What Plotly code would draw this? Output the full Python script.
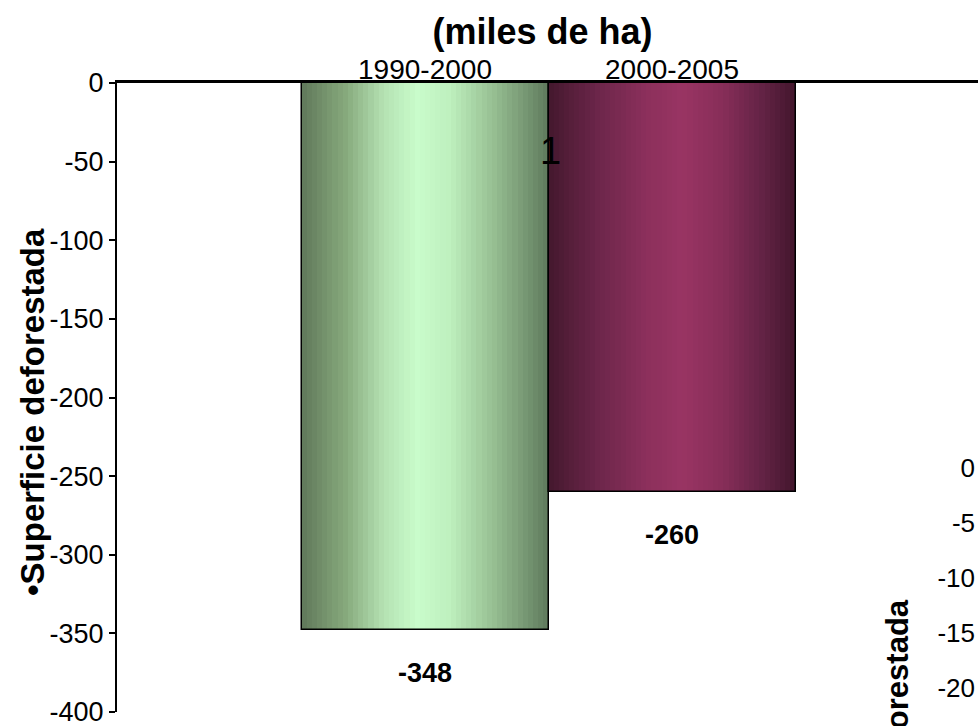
import plotly.graph_objects as go

# ---------------- data ----------------
categories = ["1990-2000", "2000-2005"]
values = [-348, -260]
value_labels = ["-348", "-260"]
y_ticks = [0, -50, -100, -150, -200, -250, -300, -350, -400]
title_text = "(miles de ha)"
y_title = "•Superficie deforestada"
stray_label = "1"
right_ticks = [0, -5, -10, -15, -20, -25]
right_title = "•Superficie deforestada"

# ---------------- style ----------------
W, H = 978, 726
NARROW = "Liberation Sans Narrow, Arial Narrow, Liberation Sans, Arial, sans-serif"
SANS = "Liberation Sans, Arial, sans-serif"

green_stops = [(0.0, (96, 120, 90)), (0.18, (135, 170, 125)), (0.33, (180, 225, 178)),
               (0.47, (201, 252, 203)), (0.6, (190, 240, 190)), (0.78, (150, 190, 145)),
               (1.0, (95, 122, 92))]
purple_stops = [(0.0, (68, 24, 46)), (0.2, (108, 38, 74)), (0.4, (140, 48, 92)),
                (0.54, (153, 52, 99)), (0.7, (136, 46, 89)), (0.86, (100, 35, 70)),
                (1.0, (66, 22, 44))]
bar_stops = [green_stops, purple_stops]


def px_x(p):
    return p / W


def px_y(p):
    return 1 - p / H


def interp(stops, t):
    for (t0, c0), (t1, c1) in zip(stops[:-1], stops[1:]):
        if t0 <= t <= t1:
            f = (t - t0) / (t1 - t0) if t1 > t0 else 0
            c = [round(a + (b - a) * f) for a, b in zip(c0, c1)]
            return f"rgb({c[0]},{c[1]},{c[2]})"
    c = stops[-1][1]
    return f"rgb({c[0]},{c[1]},{c[2]})"


fig = go.Figure()

N = 48
for i, (v, stops) in enumerate(zip(values, bar_stops)):
    xs = [i - 0.5 + (k + 0.5) / N for k in range(N)]
    cols = [interp(stops, (k + 0.5) / N) for k in range(N)]
    fig.add_trace(go.Bar(
        x=xs, y=[v] * N, width=1.0 / N,
        marker=dict(color=cols, line=dict(width=0)),
        hoverinfo="skip", showlegend=False,
    ))

# outline of each bar
fig.add_trace(go.Bar(
    x=list(range(len(categories))), y=values, width=1.0,
    marker=dict(color="rgba(0,0,0,0)", line=dict(color="black", width=1.5)),
    showlegend=False, hovertext=categories,
))

# second (cut-off) chart axis on the right
fig.add_trace(go.Scatter(x=[None], y=[None], xaxis="x2", yaxis="y2",
                         showlegend=False, hoverinfo="skip"))

# value labels
for i, (v, lab) in enumerate(zip(values, value_labels)):
    fig.add_annotation(x=i, y=v, xref="x", yref="y", text=lab, showarrow=False,
                       yanchor="middle", xanchor="center", yshift=-43,
                       font=dict(family=NARROW, size=27, color="black", weight="bold"))

fig.add_annotation(x=px_x(550), y=px_y(151), xref="paper", yref="paper",
                   text=stray_label, showarrow=False, xanchor="center", yanchor="middle",
                   font=dict(family=NARROW, size=38, color="black"))

# main y-axis title
fig.add_annotation(x=px_x(33), y=px_y(412), xref="paper", yref="paper",
                   text=y_title, showarrow=False, textangle=-90,
                   xanchor="center", yanchor="middle",
                   font=dict(family=SANS, size=33, color="black", weight="bold"))

# title of the cut-off second chart
fig.add_annotation(x=px_x(897), y=px_y(597), xref="paper", yref="paper",
                   text=right_title, showarrow=False, textangle=-90,
                   xanchor="center", yanchor="top",
                   font=dict(family=SANS, size=31, color="black", weight="bold"))

# pixel geometry of the main plot
left_px, right_px = 117, 978
c0_px, pitch = 425, 247
x_range = [(left_px - c0_px) / pitch, (right_px - c0_px) / pitch]

fig.update_layout(
    width=W, height=H,
    margin=dict(l=0, r=0, t=0, b=0, autoexpand=False),
    paper_bgcolor="white", plot_bgcolor="white",
    barmode="overlay", bargap=0,
    showlegend=False,
    title=dict(text=title_text, x=px_x(542.5), y=px_y(31), xanchor="center",
               yanchor="middle", xref="paper", yref="container",
               font=dict(family=SANS, size=36, color="black", weight="bold")),
    xaxis=dict(domain=[px_x(left_px), 1], range=x_range, side="top",
               tickvals=list(range(len(categories))), ticktext=categories,
               ticks="", showline=True, linewidth=3, linecolor="black",
               showgrid=False, zeroline=False, fixedrange=True, automargin=False,
               ticklabelstandoff=-10,
               tickfont=dict(family=SANS, size=28, color="black")),
    yaxis=dict(domain=[px_y(712), px_y(83)], range=[-400, 0],
               tickvals=y_ticks, ticktext=[str(t) for t in y_ticks],
               ticks="outside", ticklen=6, tickwidth=2, ticklabeloverflow="allow",
               tickcolor="black", showline=True, linewidth=2, linecolor="black",
               showgrid=False, zeroline=False, fixedrange=True, automargin=False,
               tickfont=dict(family=NARROW, size=27, color="black")),
    xaxis2=dict(domain=[0.85, 1], anchor="y2", visible=False, range=[0, 1]),
    yaxis2=dict(domain=[0, px_y(450)], range=[-(726 - 468) / 11, (468 - 450) / 11],
                anchor="free", position=px_x(975), side="left",
                tickvals=right_ticks, ticktext=[str(t) for t in right_ticks],
                ticks="", showline=False, showgrid=False, ticklabeloverflow="allow",
                zeroline=False, fixedrange=True, automargin=False,
                tickfont=dict(family=SANS, size=26, color="black")),
)

fig.write_html("out.html", config={"displayModeBar": False},
               post_script="document.body.style.margin='0';document.body.style.overflow='hidden';")
